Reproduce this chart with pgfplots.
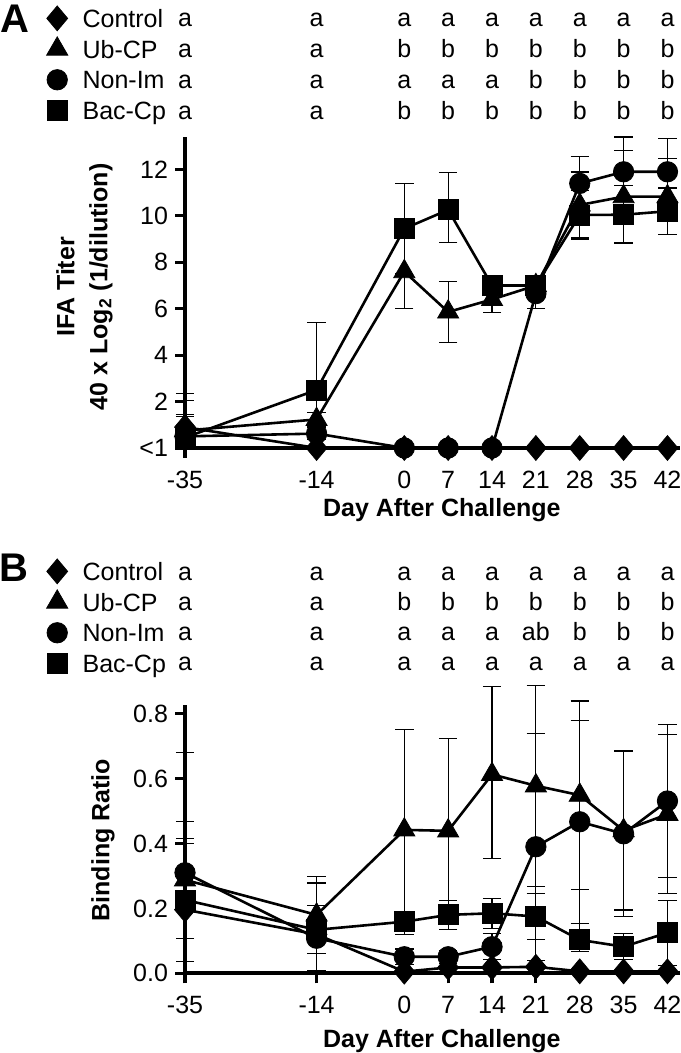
\documentclass[border=0pt]{standalone}
\usepackage{fontspec}
\setmainfont{Liberation Sans}
\usepackage{pgfplots}
\pgfplotsset{compat=1.18}

\tikzset{lettr/.style={font=\fontsize{12.5}{14}\selectfont, text height=9pt, text depth=0pt, inner sep=0pt, anchor=center}}

% #1 = row height (data units); days -35 and -14 always "a"; #2..#8 = days 0..42
\newcommand{\LRow}[8]{%
  \node[lettr] at (axis cs:-35,#1) {a};
  \node[lettr] at (axis cs:-14,#1) {a};
  \node[lettr] at (axis cs:0,#1) {#2};
  \node[lettr] at (axis cs:7,#1) {#3};
  \node[lettr] at (axis cs:14,#1) {#4};
  \node[lettr] at (axis cs:21,#1) {#5};
  \node[lettr] at (axis cs:28,#1) {#6};
  \node[lettr] at (axis cs:35,#1) {#7};
  \node[lettr] at (axis cs:42,#1) {#8};}

\pgfplotsset{
  panel/.style={
    scale only axis, width=247.5pt,
    xmin=-35, xmax=44,
    axis lines=left,
    axis line style={-, line width=2pt},
    tick align=outside,
    major tick length=5pt,
    tick style={line width=1.6pt, black},
    xtick={-35,-14,0,7,14,21,28,35,42},
    xticklabels={-35,-14,0,7,14,21,28,35,42},
    tick label style={font=\fontsize{12.5}{14}\selectfont},
    xticklabel style={yshift=-3pt},
    clip=false,
    legend style={draw=none, fill=none, anchor=north west, inner sep=0pt, outer sep=0pt,
      font=\fontsize{12.5}{14}\selectfont, row sep=0.35pt, column sep=7.4pt,
      nodes={anchor=west, inner xsep=0pt, inner ysep=3pt, text height=9pt, text depth=0pt}},
    legend image code/.code={\draw[#1] plot coordinates {(0pt,0pt)};},
  },
  ser/.style={black, line width=1.3pt,
    error bars/y dir=both, error bars/y explicit,
    error bars/error bar style={line width=0.6pt, black, solid},
    error bars/error mark options={rotate=90, mark size=4.6pt, line width=0.6pt, black}},
  mctrl/.style={mark=diamond*, mark size=6.2pt, mark options={solid, fill=black, draw=black, line width=0.4pt, xscale=1.12}},
  mub/.style={mark=triangle*, mark size=6.1pt, mark options={solid, fill=black, draw=black, line width=0.4pt}},
  mnon/.style={mark=*, mark size=5.1pt, mark options={solid, fill=black, draw=black, line width=0.4pt}},
  mbac/.style={mark=square*, mark size=5pt, mark options={solid, fill=black, draw=black, line width=0.4pt}},
}

\begin{document}
\begin{tikzpicture}
\useasboundingbox (0,0) rectangle (340pt,526.5pt);

% ---------------- Panel A ----------------
\begin{axis}[panel,
  at={(92.5pt,302.5pt)}, anchor=south west,
  height=155.5pt,
  ymin=0, ymax=13.4,
  ytick={0,2,4,6,8,10,12},
  yticklabels={<1,2,4,6,8,10,12},
  xlabel={Day After Challenge},
  xlabel style={at={(axis description cs:0.519,0)}, anchor=base, yshift=-34.5pt, font=\bfseries\fontsize{12.5}{15}\selectfont},
  ylabel={IFA Titer\\40 x Log\textsubscript{2} (1/dilution)},
  ylabel style={align=center, at={(axis description cs:-0.203,0.518)}, anchor=center, font=\bfseries\fontsize{12.5}{16.5}\selectfont},
  legend style={at={(axis description cs:-0.2795,1.4296)}},
]
\addlegendimage{only marks, mctrl}
\addlegendimage{only marks, mub}
\addlegendimage{only marks, mnon}
\addlegendimage{only marks, mbac}
\legend{Control,Ub-CP,Non-Im,Bac-Cp}

% Ub-CP
\addplot[ser, mub, forget plot] coordinates {
 (-35,0.75) += (0,0.7) -= (0,0.75)
 (-14,1.23) += (0,0.3) -= (0,0.3)
 (0,7.6) += (0,1.6) -= (0,1.6)
 (7,5.86) += (0,1.33) -= (0,1.33)
 (14,6.4) += (0,0.57) -= (0,0.57)
 (21,7.0) += (0,0.3) -= (0,0.3)
 (28,10.47) += (0,1.42) -= (0,1.42)
 (35,10.83) += (0,2.0) -= (0,2.0)
 (42,10.83) += (0,1.64) -= (0,1.64)
};
% Non-Im
\addplot[ser, mnon, forget plot] coordinates {
 (-35,0.5) += (0,0.85) -= (0,0.5)
 (-14,0.62) += (0,0.25) -= (0,0.25)
 (0,0) += (0,0) -= (0,0)
 (7,0) += (0,0) -= (0,0)
 (14,0) += (0,0) -= (0,0)
 (21,6.65) += (0,0.65) -= (0,0.65)
 (28,11.4) += (0,1.17) -= (0,1.17)
 (35,11.9) += (0,1.5) -= (0,1.5)
 (42,11.9) += (0,1.43) -= (0,1.43)
};
% Bac-Cp
\addplot[ser, mbac, forget plot] coordinates {
 (-35,0.45) += (0,1.6) -= (0,0.45)
 (-14,2.5) += (0,2.9) -= (0,2.5)
 (0,9.45) += (0,1.95) -= (0,1.95)
 (7,10.26) += (0,1.6) -= (0,1.4)
 (14,7.0) += (0,0.3) -= (0,0.3)
 (21,7.0) += (0,0.3) -= (0,0.3)
 (28,10.04) += (0,1.07) -= (0,1.07)
 (35,10.05) += (0,1.25) -= (0,1.2)
 (42,10.2) += (0,1.0) -= (0,1.0)
};
% Control
\addplot[ser, mctrl, forget plot] coordinates {
 (-35,0.9) += (0,1.45) -= (0,0.9)
 (-14,0) += (0,0) -= (0,0)
 (0,0) += (0,0) -= (0,0)
 (7,0) += (0,0) -= (0,0)
 (14,0) += (0,0) -= (0,0)
 (21,0) += (0,0) -= (0,0)
 (28,0) += (0,0) -= (0,0)
 (35,0) += (0,0) -= (0,0)
 (42,0) += (0,0) -= (0,0)
};

\LRow{18.53}{a}{a}{a}{a}{a}{a}{a}
\LRow{17.21}{b}{b}{b}{b}{b}{b}{b}
\LRow{15.89}{a}{a}{a}{b}{b}{b}{b}
\LRow{14.56}{b}{b}{b}{b}{b}{b}{b}
\end{axis}

% ---------------- Panel B ----------------
\begin{axis}[panel,
  at={(92.5pt,39.85pt)}, anchor=south west,
  height=134pt,
  ymin=0, ymax=0.826,
  ytick={0,0.2,0.4,0.6,0.8},
  yticklabels={0.0,0.2,0.4,0.6,0.8},
  xlabel={Day After Challenge},
  xlabel style={at={(axis description cs:0.519,0)}, anchor=base, yshift=-37pt, font=\bfseries\fontsize{12.5}{15}\selectfont},
  ylabel={Binding Ratio},
  ylabel style={at={(axis description cs:-0.1657,0.497)}, anchor=center, font=\bfseries\fontsize{12.5}{15}\selectfont},
  legend style={at={(axis description cs:-0.2795,1.5556)}},
]
\addlegendimage{only marks, mctrl}
\addlegendimage{only marks, mub}
\addlegendimage{only marks, mnon}
\addlegendimage{only marks, mbac}
\legend{Control,Ub-CP,Non-Im,Bac-Cp}

% Ub-CP
\addplot[ser, mub, forget plot] coordinates {
 (-35,0.288) += (0,0.18) -= (0,0.18)
 (-14,0.18) += (0,0.118) -= (0,0.118)
 (0,0.442) += (0,0.31) -= (0,0.31)
 (7,0.439) += (0,0.285) -= (0,0.285)
 (14,0.613) += (0,0.27) -= (0,0.26)
 (21,0.578) += (0,0.31) -= (0,0.31)
 (28,0.549) += (0,0.29) -= (0,0.29)
 (35,0.44) += (0,0.245) -= (0,0.245)
 (42,0.49) += (0,0.245) -= (0,0.245)
};
% Non-Im
\addplot[ser, mnon, forget plot] coordinates {
 (-35,0.31) += (0,0.37) -= (0,0.31)
 (-14,0.108) += (0,0.1) -= (0,0.1)
 (0,0.051) += (0,0.024) -= (0,0.024)
 (7,0.051) += (0,0.02) -= (0,0.02)
 (14,0.082) += (0,0.04) -= (0,0.04)
 (21,0.39) += (0,0.35) -= (0,0.35)
 (28,0.467) += (0,0.313) -= (0,0.313)
 (35,0.43) += (0,0.255) -= (0,0.255)
 (42,0.531) += (0,0.235) -= (0,0.235)
};
% Bac-Cp
\addplot[ser, mbac, forget plot] coordinates {
 (-35,0.226) += (0,0.19) -= (0,0.19)
 (-14,0.134) += (0,0.144) -= (0,0.134)
 (0,0.159) += (0,0.032) -= (0,0.04)
 (7,0.18) += (0,0.045) -= (0,0.045)
 (14,0.185) += (0,0.046) -= (0,0.046)
 (21,0.175) += (0,0.07) -= (0,0.07)
 (28,0.103) += (0,0.05) -= (0,0.037)
 (35,0.082) += (0,0.04) -= (0,0.04)
 (42,0.125) += (0,0.1) -= (0,0.1)
};
% Control
\addplot[ser, mctrl, forget plot] coordinates {
 (-35,0.196) += (0,0.205) -= (0,0.196)
 (-14,0.12) += (0,0) -= (0,0)
 (0,0.005) += (0,0) -= (0,0)
 (7,0.018) += (0,0) -= (0,0)
 (14,0.018) += (0,0) -= (0,0)
 (21,0.02) += (0,0) -= (0,0)
 (28,0.006) += (0,0) -= (0,0)
 (35,0.006) += (0,0) -= (0,0)
 (42,0.006) += (0,0) -= (0,0)
};

\LRow{1.2398}{a}{a}{a}{a}{a}{a}{a}
\LRow{1.1464}{b}{b}{b}{b}{b}{b}{b}
\LRow{1.0530}{a}{a}{a}{ab}{b}{b}{b}
\LRow{0.9596}{a}{a}{a}{a}{a}{a}{a}
\end{axis}

% Panel letters
\node[font=\bfseries\fontsize{20}{24}\selectfont, text height=14.3pt, text depth=0pt, inner sep=0pt, anchor=center] at (7.5pt,517.25pt) {A};
\node[font=\bfseries\fontsize{20}{24}\selectfont, text height=14.3pt, text depth=0pt, inner sep=0pt, anchor=center] at (7pt,243pt) {B};
\end{tikzpicture}
\end{document}
